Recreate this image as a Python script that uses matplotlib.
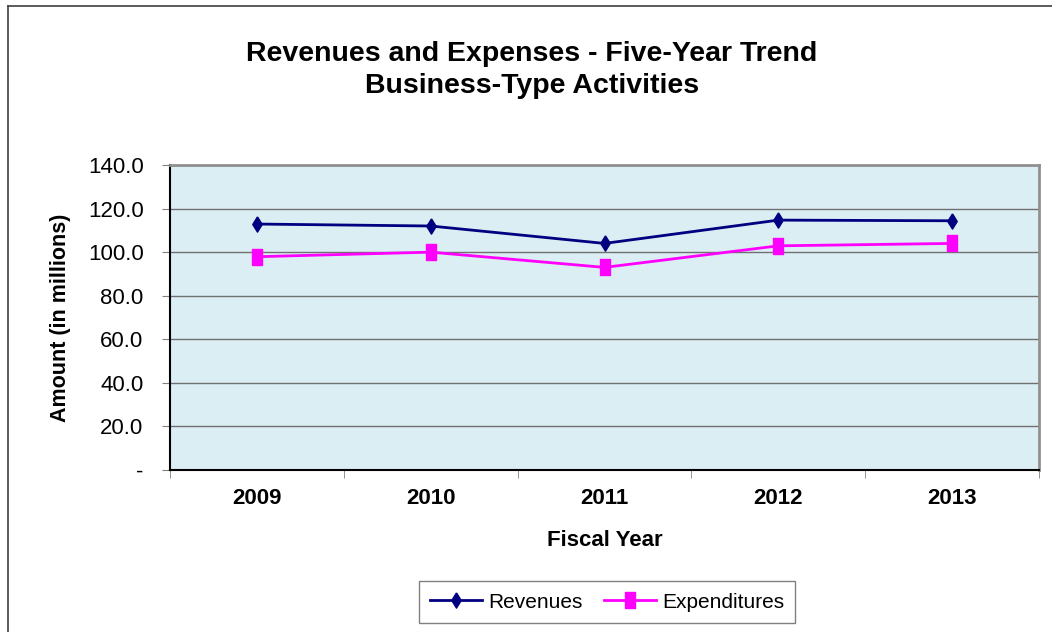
import matplotlib.pyplot as plt
from matplotlib.lines import Line2D
from matplotlib.ticker import FixedLocator, FuncFormatter

plt.rcParams["font.family"] = ["Liberation Sans", "DejaVu Sans"]

years = ["2009", "2010", "2011", "2012", "2013"]
revenues = [112.9, 112.0, 104.0, 114.7, 114.4]
expenditures = [97.9, 100.0, 93.0, 102.9, 104.0]

fig = plt.figure(figsize=(10.52, 6.32), dpi=100)
W, H = 1052, 632

# outer chart frame (left and top edges only are in view)
fig.add_artist(Line2D([8 / W, 8 / W], [0, 1 - 6 / H], color="#404040", lw=1.2))
fig.add_artist(Line2D([8 / W, 1], [1 - 6 / H, 1 - 6 / H], color="#404040", lw=1.2))

ax = fig.add_axes([170 / W, 1 - 470 / H, (1039 - 170) / W, (470 - 165) / H])
ax.set_facecolor("#DBEEF3")

# tall diamond and tall square markers
diamond = [(0, 1), (0.62, 0), (0, -1), (-0.62, 0), (0, 1)]
tall_sq = [(-0.6, -1), (0.6, -1), (0.6, 1), (-0.6, 1), (-0.6, -1)]

x = range(len(years))
ax.plot(x, revenues, color="#000080", lw=2, marker=diamond, markersize=11,
        label="Revenues")
ax.plot(x, expenditures, color="#FF00FF", lw=2, marker=tall_sq, markersize=11,
        label="Expenditures")

ax.set_xlim(-0.5, len(years) - 0.5)
ax.set_ylim(0, 140)
ax.set_yticks(range(0, 141, 20))
ax.yaxis.set_major_formatter(FuncFormatter(lambda v, p: "-" if v == 0 else f"{v:.1f}"))
ax.grid(axis="y", color="#707070", lw=1)
ax.set_axisbelow(True)

ax.set_xticks(list(x))
ax.set_xticklabels(years, fontweight="bold", fontsize=16)
ax.xaxis.set_minor_locator(FixedLocator([i - 0.5 for i in range(len(years) + 1)]))
ax.tick_params(axis="x", which="major", length=0, pad=13)
ax.tick_params(axis="x", which="minor", length=6, color="#808080")
ax.tick_params(axis="y", length=6, color="#808080", labelsize=16, pad=13)

for side in ("left", "bottom"):
    ax.spines[side].set_color("black")
    ax.spines[side].set_linewidth(1.5)
for side in ("top", "right"):
    ax.spines[side].set_color("#909090")
    ax.spines[side].set_linewidth(2)

ax.set_xlabel("Fiscal Year", fontweight="bold", fontsize=16, labelpad=15)
ax.set_ylabel("Amount (in millions)", fontweight="bold", fontsize=15.5, labelpad=12)

fig.text(532 / W, 1 - 70 / H, "Revenues and Expenses - Five-Year Trend\nBusiness-Type Activities",
         ha="center", va="center", fontsize=20.5, fontweight="bold", linespacing=1.32)

leg = fig.legend(loc="center", bbox_to_anchor=(607 / W, 1 - 602 / H), ncol=2,
                 fontsize=15, frameon=True, fancybox=False, edgecolor="#606060",
                 handlelength=2.5, handletextpad=0.3, columnspacing=1.0,
                 borderpad=0.55, borderaxespad=0)
leg.get_frame().set_linewidth(1)

fig.savefig("out.png", dpi=100)
